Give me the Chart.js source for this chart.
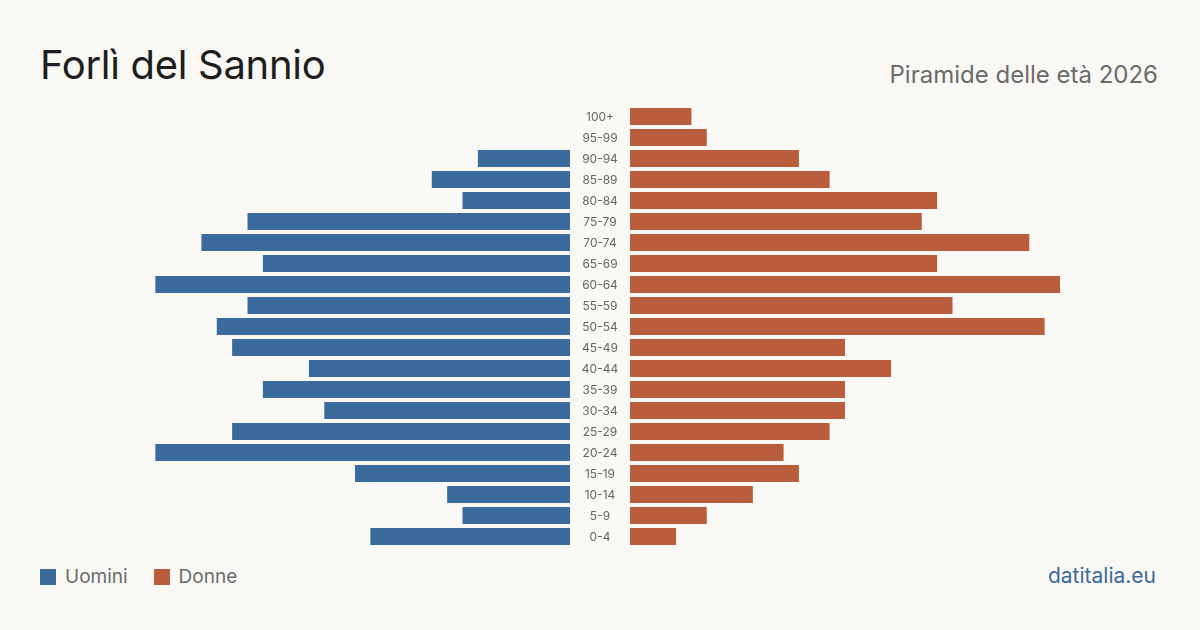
<!DOCTYPE html>
<html>
<head>
<meta charset="utf-8">
<script src="https://cdn.jsdelivr.net/npm/chart.js@4.4.1/dist/chart.umd.min.js"></script>
<style>
    html, body { margin: 0; padding: 0; }
    body {
        width: 1200px; height: 630px; background: #f9f8f4; position: relative; overflow: hidden;
        font-family: 'Inter', 'Roboto', sans-serif;
    }
    .title { position: absolute; left: 40px; top: 40px; font-size: 40px; color: #1d1d1d; letter-spacing: -0.3px; }
    .subtitle { position: absolute; right: 42px; top: 60px; font-size: 24px; color: #6b6b6b; }
    .legend { position: absolute; left: 40px; top: 565px; font-size: 19px; color: #6b6b6b; display: flex; align-items: center; }
    .legend span.box { display: inline-block; width: 16px; height: 16px; margin-right: 9px; }
    .legend .item { display: flex; align-items: center; margin-right: 26px; }
    .brand { position: absolute; right: 44px; top: 563px; font-size: 21px; color: #3a6b9c; }
    #wrapLeft { position: absolute; left: 140px; top: 100px; width: 430px; height: 453px; }
    #wrapRight { position: absolute; left: 570px; top: 100px; width: 490px; height: 453px; }
</style>
</head>
<body>
<div class="title">Forlì del Sannio</div>
<div class="subtitle">Piramide delle età 2026</div>
<div id="wrapLeft"><canvas id="leftChart"></canvas></div>
<div id="wrapRight"><canvas id="rightChart"></canvas></div>
<div class="legend">
    <div class="item"><span class="box" style="background:#3a6b9c"></span>Uomini</div>
    <div class="item"><span class="box" style="background:#b95d3c"></span>Donne</div>
</div>
<div class="brand">datitalia.eu</div>

<script>
// classi di età, dall'alto verso il basso
const ageGroups = ['100+', '95-99', '90-94', '85-89', '80-84', '75-79', '70-74', '65-69', '60-64', '55-59',
    '50-54', '45-49', '40-44', '35-39', '30-34', '25-29', '20-24', '15-19', '10-14', '5-9', '0-4'];
const men =   [0, 0, 6, 9, 7, 21, 24, 20, 27, 21, 23, 22, 17, 20, 16, 22, 27, 14, 8, 7, 13];
const women = [4, 5, 11, 13, 20, 19, 26, 20, 28, 21, 27, 14, 17, 14, 14, 13, 10, 11, 8, 5, 3];
const maxValue = 28;

const blue = '#3a6b9c';
const orange = '#b95d3c';

function baseOptions(reverse) {
    return {
        indexAxis: 'y',
        responsive: true,
        maintainAspectRatio: false,
        animation: false,
        layout: { padding: { top: 6, bottom: 6 } },
        plugins: { legend: { display: false }, tooltip: { enabled: false } },
        scales: {
            x: { min: 0, max: maxValue, reverse: reverse, display: false },
            y: { display: false, grid: { display: false } }
        }
    };
}

// etichette centrate tra le due metà
const centerLabels = {
    id: 'centerLabels',
    afterDraw(chart) {
        const ctx = chart.ctx;
        const yScale = chart.scales.y;
        const x = chart.chartArea.left - 30;
        ctx.save();
        ctx.fillStyle = '#666';
        ctx.font = '12px Inter';
        ctx.textAlign = 'center';
        ctx.textBaseline = 'middle';
        ageGroups.forEach((label, i) => {
            ctx.fillText(label, x, yScale.getPixelForValue(i) + 1);
        });
        ctx.restore();
    }
};

// uomini a sinistra
new Chart(document.getElementById('leftChart'), {
    type: 'bar',
    data: {
        labels: ageGroups,
        datasets: [{ data: men, backgroundColor: blue, barPercentage: 0.81, categoryPercentage: 1 }]
    },
    options: baseOptions(true)
});

// donne a destra
const rightOpts = baseOptions(false);
rightOpts.layout.padding.left = 60;
new Chart(document.getElementById('rightChart'), {
    type: 'bar',
    data: {
        labels: ageGroups,
        datasets: [{ data: women, backgroundColor: orange, barPercentage: 0.81, categoryPercentage: 1 }]
    },
    options: rightOpts,
    plugins: [centerLabels]
});
</script>
</body>
</html>
